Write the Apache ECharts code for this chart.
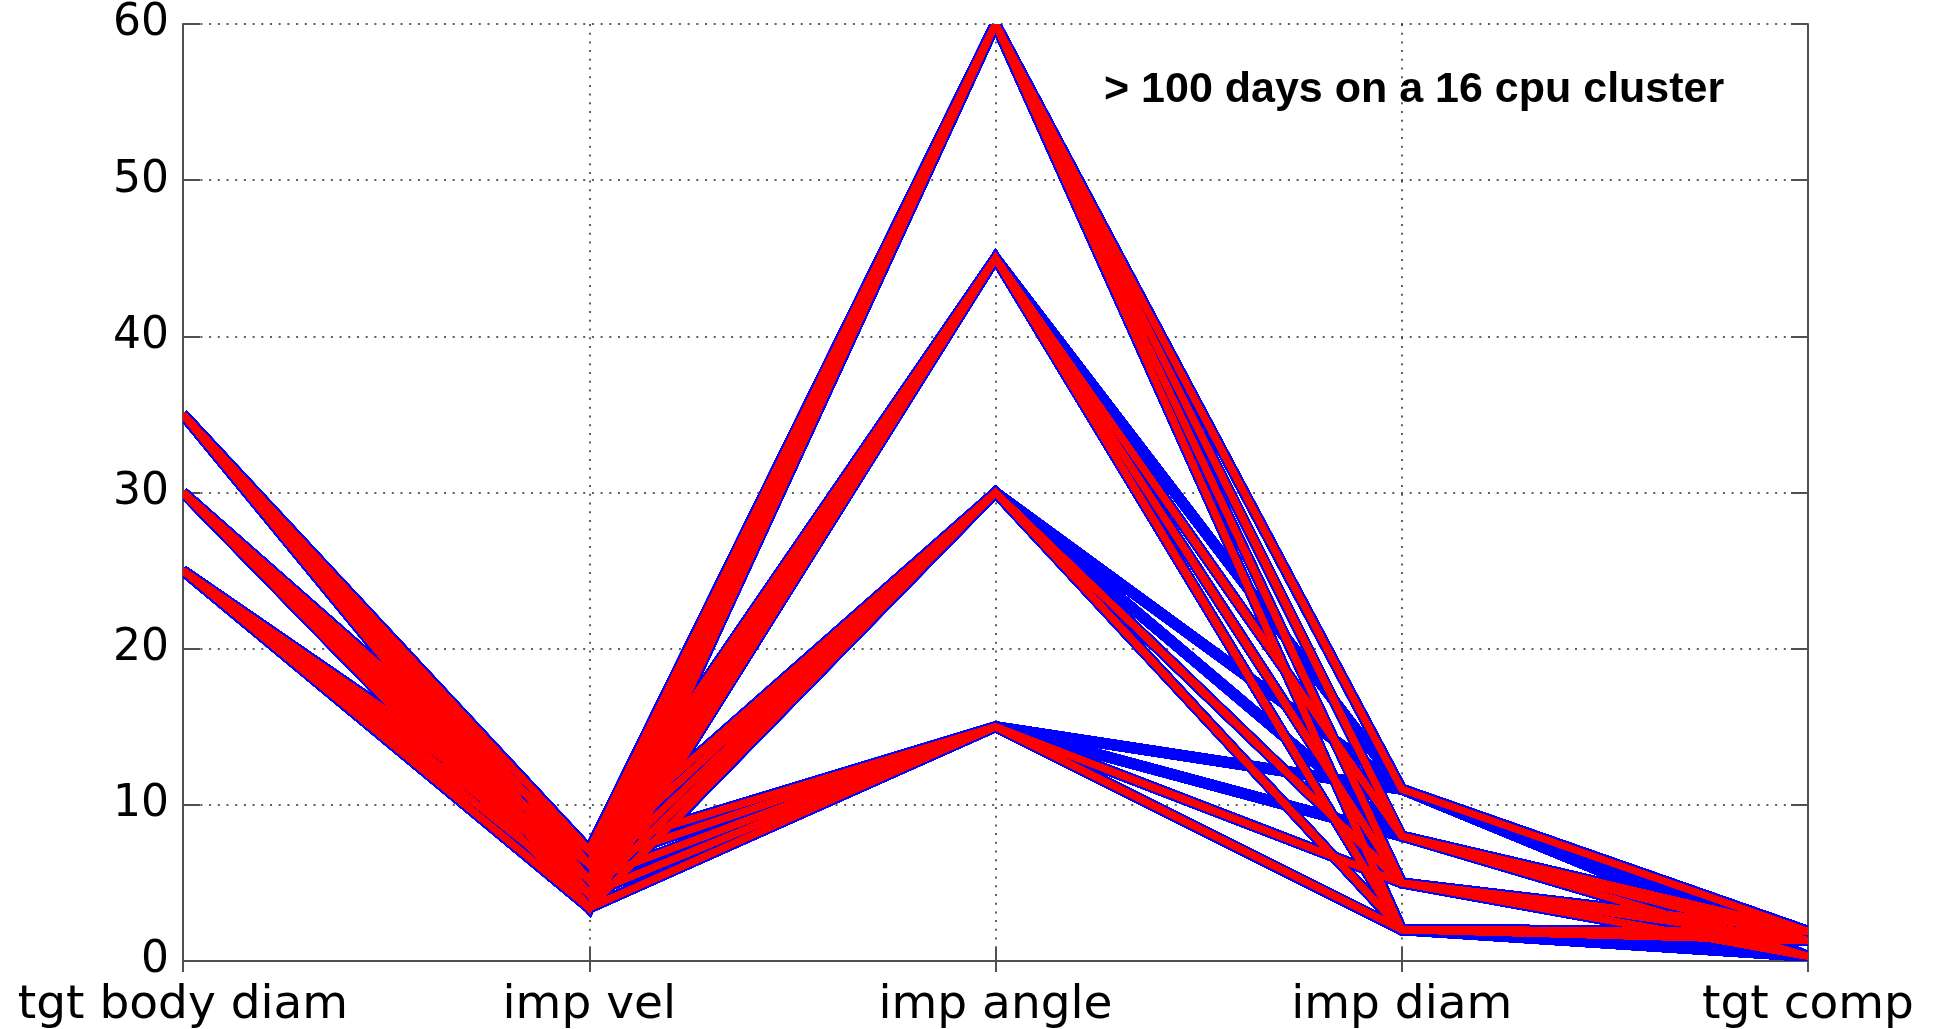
<!DOCTYPE html>
<html>
<head>
<meta charset="utf-8">
<script src="https://cdn.jsdelivr.net/npm/echarts@6/dist/echarts.min.js"></script>
<style>
  html, body { margin: 0; padding: 0; background: #fff; }
  #chart { width: 1938px; height: 1029px; }
</style>
</head>
<body>
<div id="chart"></div>
<script>
// axes of the parameter sweep
const axisNames = ['tgt body diam', 'imp vel', 'imp angle', 'imp diam', 'tgt comp']

// levels
const tgtBodyDiam = [25, 30, 35]
const impVel = [3.4, 4.3, 5.2, 6.2, 7.1]
const impAngle = [15, 30, 45, 60]
const impDiam = [2, 5, 8, 11]
const tgtComp = [0.3, 1.3, 1.9]

// finished runs (red), rows = imp angle, cols = imp diam
const doneAngleDiam = [
  [1, 1, 0, 0],
  [1, 1, 0, 0],
  [1, 1, 1, 0],
  [1, 1, 1, 1]
]
// finished runs, rows = imp diam, cols = tgt comp
const doneDiamComp = [
  [0, 1, 1],
  [1, 1, 1],
  [1, 1, 1],
  [0, 0, 1]
]

const note = '> 100 days on a 16 cpu cluster'

const BLUE = '#0000ff'
const RED = '#ff0000'
const FRAME = '#505050'

// every run of the sweep is one polyline across the five axes
const allRuns = []
const finished = []
tgtBodyDiam.forEach(b => {
  impVel.forEach(v => {
    impAngle.forEach((a, ai) => {
      impDiam.forEach((d, di) => {
        tgtComp.forEach((c, ci) => {
          const coords = [b, v, a, d, c].map((y, i) => [i, y])
          allRuns.push(coords)
          if (doneAngleDiam[ai][di] && doneDiamComp[di][ci]) finished.push(coords)
        })
      })
    })
  })
})

// all planned runs in wide blue, finished runs in red on top
const lineData = []
allRuns.forEach(c => {
  lineData.push({ coords: c, lineStyle: { color: BLUE, width: 10.5 } })
})
finished.forEach(c => {
  lineData.push({ coords: c, lineStyle: { color: RED, width: 6.5 } })
})

const dotted = { type: [2, 6.7], color: '#2a2a2a', width: 1.5 }

const chart = echarts.init(document.getElementById('chart'))
chart.setOption({
  animation: false,
  backgroundColor: '#fff',
  title: {
    text: note,
    left: 1104,
    top: 69,
    padding: 0,
    textStyle: {
      fontFamily: 'Liberation Sans',
      fontWeight: 'bold',
      fontSize: 43,
      color: '#000'
    }
  },
  grid: { left: 183, right: 130, top: 24, bottom: 67, containLabel: false },
  xAxis: [{
    type: 'category',
    data: axisNames,
    boundaryGap: false,
    position: 'bottom',
    axisLine: { show: true, lineStyle: { color: FRAME, width: 2 } },
    axisTick: { show: true, inside: true, length: 13, interval: 0, lineStyle: { color: FRAME, width: 2 } },
    axisLabel: { interval: 0, fontFamily: 'DejaVu Sans', fontSize: 47, color: '#000', margin: 21 },
    splitLine: { show: true, interval: 0, lineStyle: dotted }
  }, {
    type: 'category',
    data: axisNames,
    boundaryGap: false,
    position: 'top',
    axisLine: { show: true, lineStyle: { color: FRAME, width: 2 } },
    axisTick: { show: true, inside: true, length: 11, interval: 0, lineStyle: { color: FRAME, width: 2 } },
    axisLabel: { show: false },
    splitLine: { show: false }
  }],
  yAxis: [{
    type: 'value',
    min: 0,
    max: 60,
    interval: 10,
    position: 'left',
    axisLine: { show: true, lineStyle: { color: FRAME, width: 2 } },
    axisTick: { show: true, inside: true, length: 17, lineStyle: { color: FRAME, width: 2 } },
    axisLabel: { fontFamily: 'DejaVu Sans', fontSize: 44, color: '#000', margin: 14 },
    splitLine: { show: true, lineStyle: dotted }
  }, {
    type: 'value',
    min: 0,
    max: 60,
    interval: 10,
    position: 'right',
    axisLine: { show: true, lineStyle: { color: FRAME, width: 2 } },
    axisTick: { show: true, inside: true, length: 17, lineStyle: { color: FRAME, width: 2 } },
    axisLabel: { show: false },
    splitLine: { show: false }
  }],
  series: [{
    type: 'lines',
    coordinateSystem: 'cartesian2d',
    xAxisIndex: 0,
    yAxisIndex: 0,
    polyline: true,
    large: false,
    clip: true,
    silent: true,
    lineStyle: { opacity: 1, curveness: 0, join: 'miter' },
    data: lineData
  }]
})
</script>
</body>
</html>
